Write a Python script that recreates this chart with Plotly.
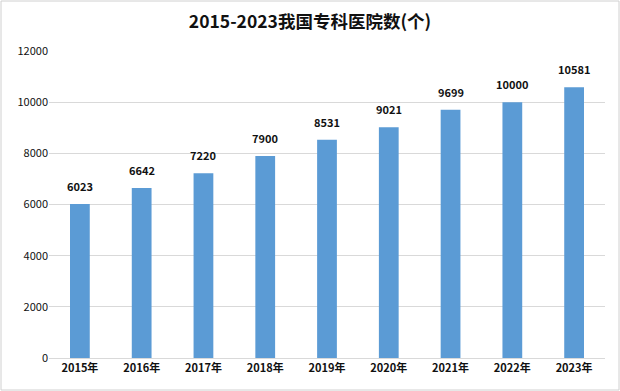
import plotly.graph_objects as go

years = ["2015年", "2016年", "2017年", "2018年", "2019年", "2020年", "2021年", "2022年", "2023年"]
hospitals = [6023, 6642, 7220, 7900, 8531, 9021, 9699, 10000, 10581]
y_ticks = [0, 2000, 4000, 6000, 8000, 10000, 12000]

W, H = 620, 391
ml, mr, mt, mb = 49, 15, 51, 33
pw, ph = W - ml - mr, H - mt - mb

font_fam = "Noto Sans CJK SC, Noto Sans, sans-serif"

fig = go.Figure()
fig.add_trace(go.Bar(
    x=years, y=hospitals,
    marker=dict(color="#5B9BD5", line=dict(width=0)),
    width=0.32,
    hoverinfo="skip",
))

for yr, v in zip(years, hospitals):
    fig.add_annotation(
        x=yr, y=v, text=f"<b>{v}</b>", showarrow=False,
        yanchor="bottom", yshift=8,
        font=dict(size=11, color="#111111", family=font_fam),
    )

fig.update_layout(
    width=W, height=H,
    margin=dict(l=ml, r=mr, t=mt, b=mb),
    paper_bgcolor="white", plot_bgcolor="white",
    title=dict(text="<b>2015-2023我国专科医院数(个)</b>", x=0.5, xanchor="center",
               y=1 - 22 / H, yanchor="middle",
               font=dict(size=17.5, color="#111111", family=font_fam)),
    font=dict(family=font_fam, color="#111111"),
    showlegend=False,
    xaxis=dict(
        tickmode="array", tickvals=years,
        ticktext=[f"<b>{y}</b>" for y in years],
        tickfont=dict(size=11, color="#111111"),
        showline=True, linecolor="#d9d9d9", linewidth=1,
        ticks="", showgrid=False,
    ),
    yaxis=dict(
        range=[0, 12000], tickvals=y_ticks, tickformat="d",
        tickfont=dict(size=11, color="#111111"),
        showgrid=True, gridcolor="#d9d9d9", gridwidth=1,
        zeroline=False, showline=False, ticks="",
    ),
    shapes=[dict(
        type="rect", xref="paper", yref="paper",
        x0=-(ml - 1) / pw, x1=1 + (mr - 1) / pw,
        y0=-(mb - 1) / ph, y1=1 + (mt - 1) / ph,
        line=dict(color="#d0d0d0", width=1), fillcolor="rgba(0,0,0,0)",
        layer="below",
    )],
)

fig.write_html(
    "out.html",
    config={"displayModeBar": False},
    post_script="document.body.style.margin='0';document.body.style.overflow='hidden';",
)
